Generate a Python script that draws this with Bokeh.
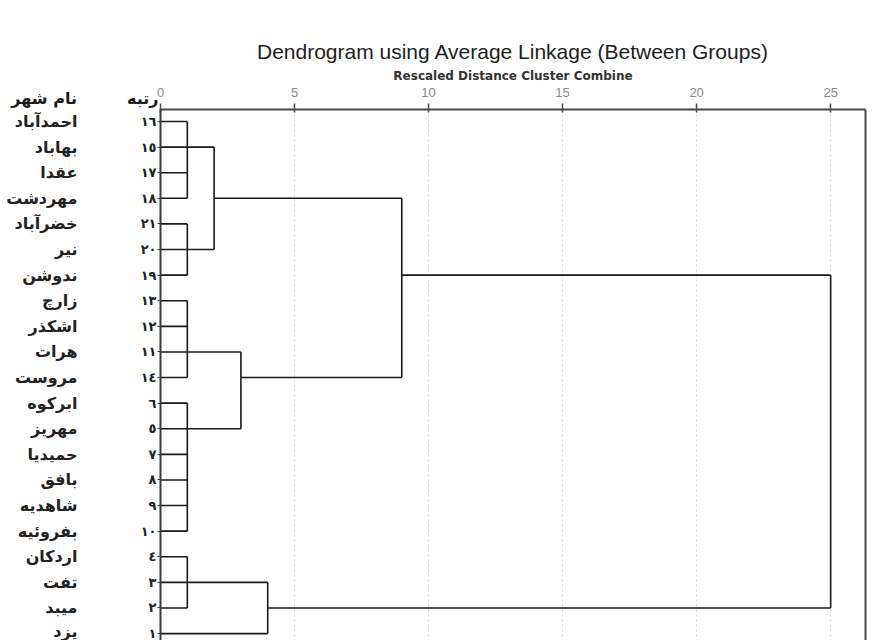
from bokeh.plotting import figure
from bokeh.models import (Range1d, LinearAxis, FixedTicker, Grid, Title, Label)
from bokeh.embed import file_html
from bokeh.resources import INLINE

# ---------------- data ----------------
ranks = [16, 15, 17, 18, 21, 20, 19, 13, 12, 11, 14, 6, 5, 7, 8, 9, 10, 4, 3, 2, 1]
cities = ["احمدآباد", "بهاباد", "عقدا", "مهردشت", "خضرآباد", "نیر", "ندوشن",
          "زارچ", "اشکذر", "هرات", "مروست", "ابرکوه", "مهریز", "حمیدیا",
          "بافق", "شاهدیه", "بفروئیه", "اردکان", "تفت", "میبد", "یزد"]
merge_ids = ["A", "B", "C", "D", "E", "AB", "CD", "E1", "ABCD", "ALL"]
merge_children = [[16, 15, 17, 18], [21, 20, 19], [13, 12, 11, 14],
                  [6, 5, 7, 8, 9, 10], [4, 3, 2], ["A", "B"], ["C", "D"],
                  ["E", 1], ["AB", "CD"], ["ABCD", "E1"]]
merge_distance = [1, 1, 1, 1, 1, 2, 3, 4, 9, 25]
merge_out_rank = [15, 20, 11, 5, 3, 18, 14, 2, 19, None]
tick_values = [0, 5, 10, 15, 20, 25]
title_text = "Dendrogram using Average Linkage (Between Groups)"
subtitle_text = "Rescaled Distance Cluster Combine"
header_rank = "رتبه"
header_city = "نام شهر"

# ---------------- derived ----------------
to_fa = str.maketrans("0123456789", "٠١٢٣٤٥٦٧٨٩")
rank_labels = [str(r).translate(to_fa) for r in ranks]
row_of = {r: i for i, r in enumerate(ranks)}
pos = {r: (0.0, float(row_of[r])) for r in ranks}
x0, y0, x1, y1 = [], [], [], []
for mid, children, d, out in zip(merge_ids, merge_children, merge_distance, merge_out_rank):
    ys = []
    for c in children:
        cx, cy = pos[c]
        x0.append(cx); y0.append(cy); x1.append(d); y1.append(cy)
        ys.append(cy)
    x0.append(d); y0.append(min(ys)); x1.append(d); y1.append(max(ys))
    pos[mid] = (d, float(row_of[out]) if out is not None else sum(ys) / len(ys))

n = len(ranks)

# ---------------- figure ----------------
p = figure(width=869, height=640, output_backend="svg", toolbar_location=None,
           x_range=Range1d(0, 26.3), y_range=Range1d(20.27, -0.469),
           x_axis_type=None, y_axis_type=None,
           min_border_left=160, min_border_right=4, min_border_top=109,
           min_border_bottom=0)
p.outline_line_color = None
p.background_fill_color = "white"

# top axis
top_ax = LinearAxis(ticker=FixedTicker(ticks=tick_values))
top_ax.axis_line_width = 2
top_ax.axis_line_color = "#4a4a4a"
top_ax.major_tick_line_color = "#4a4a4a"
top_ax.major_tick_line_width = 1.5
top_ax.major_tick_out = 6
top_ax.major_tick_in = 3
top_ax.minor_tick_line_color = None
top_ax.major_label_text_font = "Liberation Sans"
top_ax.major_label_text_font_size = "13px"
top_ax.major_label_text_color = "#8a8a8a"
top_ax.major_label_standoff = 7
p.add_layout(top_ax, "above")

sub = Title(text=subtitle_text, align="center", text_font="DejaVu Sans",
            text_font_size="12px", text_font_style="bold", text_color="#333333",
            standoff=4)
p.add_layout(sub, "above")
main = Title(text=title_text, align="center", text_font="Liberation Sans",
             text_font_size="21px", text_font_style="normal", text_color="#1e1e1e",
             standoff=4)
p.add_layout(main, "above")

# left axis with ranks
rank_ax = LinearAxis(ticker=FixedTicker(ticks=list(range(n))))
rank_ax.major_label_overrides = {i: lab for i, lab in enumerate(rank_labels)}
rank_ax.axis_line_width = 2
rank_ax.axis_line_color = "#3a3a3a"
rank_ax.major_tick_out = 3
rank_ax.major_tick_in = 0
rank_ax.major_tick_line_color = "#3a3a3a"
rank_ax.minor_tick_line_color = None
rank_ax.major_label_standoff = 1
rank_ax.major_label_text_font = "DejaVu Sans"
rank_ax.major_label_text_font_style = "bold"
rank_ax.major_label_text_font_size = "13px"
rank_ax.major_label_text_color = "#222222"
p.add_layout(rank_ax, "left")

# outer left axis with city names
city_ax = LinearAxis(ticker=FixedTicker(ticks=list(range(n))))
city_ax.major_label_overrides = {i: lab for i, lab in enumerate(cities)}
city_ax.axis_line_color = None
city_ax.major_tick_line_color = None
city_ax.minor_tick_line_color = None
city_ax.major_tick_out = 0
city_ax.major_tick_in = 0
city_ax.major_label_standoff = 60
city_ax.major_label_text_font = "DejaVu Sans"
city_ax.major_label_text_font_style = "bold"
city_ax.major_label_text_font_size = "16px"
city_ax.major_label_text_color = "#222222"
p.add_layout(city_ax, "left")

# right border
right_ax = LinearAxis(ticker=FixedTicker(ticks=[]))
right_ax.axis_line_width = 2
right_ax.axis_line_color = "#4a4a4a"
right_ax.major_tick_out = 0
right_ax.major_tick_in = 0
right_ax.minor_tick_line_color = None
right_ax.major_label_standoff = 0
right_ax.major_label_text_font_size = "0px"
p.add_layout(right_ax, "right")

# grid
p.add_layout(Grid(dimension=0, ticker=top_ax.ticker, grid_line_color="#d8d8d8",
                  grid_line_dash="2 3", grid_line_width=1))

# dendrogram
p.segment(x0=x0, y0=y0, x1=x1, y1=y1, line_color="#1a1a1a", line_width=1.6)

# column headers in one label (RTL: first logical word is drawn rightmost),
# placed in the top side panel so that it is not clipped to the frame
header_text = header_rank + "\u00a0" * 9 + header_city
p.add_layout(Label(x=-0.075, y=-0.90, text=header_text, text_align="right",
                   text_baseline="alphabetic", text_font="DejaVu Sans",
                   text_font_style="bold", text_font_size="16px", text_color="#1a1a1a"),
             "above")

open("out.html", "w").write(file_html(p, INLINE))
